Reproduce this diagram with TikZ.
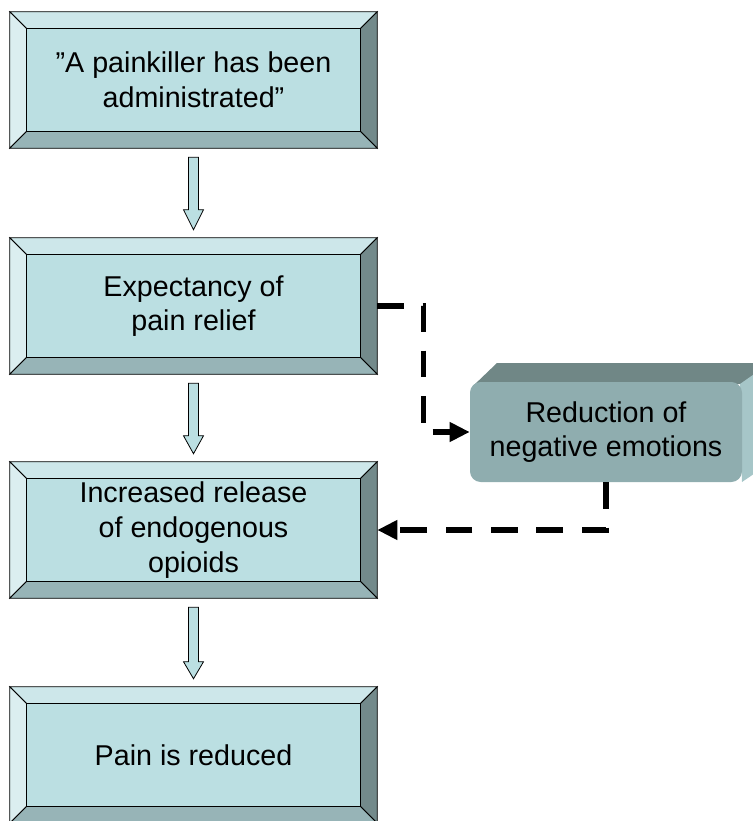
\documentclass[tikz,border=0pt]{standalone}
\usepackage{fontspec}
\setmainfont{Liberation Sans}
\usetikzlibrary{calc,backgrounds,arrows.meta}
\definecolor{face}{HTML}{BBDFE2}
\definecolor{bevtop}{HTML}{CDE7EA}
\definecolor{bevleft}{HTML}{DBEEF0}
\definecolor{bevright}{HTML}{738A8B}
\definecolor{bevbot}{HTML}{97B4B7}
\definecolor{cfront}{HTML}{8FADAF}
\definecolor{ctop}{HTML}{708786}
\definecolor{cside}{HTML}{A6C6C8}
\tikzset{
  boxtext/.style={rectangle,inner sep=0pt,minimum width=275.25pt,minimum height=102pt,
    align=center,font=\fontsize{21.5}{26}\selectfont},
  bevel/.style={draw=black,line width=0.6pt,line join=miter},
  blockarrow/.style={draw=black,line width=0.6pt,fill=face},
  dashconn/.style={draw=black,line width=3.8pt,dash pattern=on 20pt off 14pt,
    -{Triangle[length=15pt,width=14pt]}},
  emobox/.style={rectangle,rounded corners=8pt,fill=cfront,inner sep=0pt,
    minimum width=204pt,minimum height=75pt,align=center,font=\fontsize{21.5}{25.5}\selectfont}
}
\newcommand\bevbox[3]{%
  \node[boxtext] (#1) at (#2) {#3};
  \begin{scope}[on background layer]
    \path[bevel,fill=bevtop] (#1.north west) -- (#1.north east) -- ($(#1.north east)+(-17,17)$) -- ($(#1.north west)+(17,17)$) -- cycle;
    \path[bevel,fill=bevleft] (#1.north west) -- ($(#1.north west)+(17,17)$) -- ($(#1.south west)+(17,-17)$) -- (#1.south west) -- cycle;
    \path[bevel,fill=bevright] (#1.north east) -- ($(#1.north east)+(-17,17)$) -- ($(#1.south east)+(-17,-17)$) -- (#1.south east) -- cycle;
    \path[bevel,fill=bevbot] (#1.south west) -- ($(#1.south west)+(17,-17)$) -- ($(#1.south east)+(-17,-17)$) -- (#1.south east) -- cycle;
    \path[bevel,fill=face] ($(#1.north west)+(17,17)$) rectangle ($(#1.south east)+(-17,-17)$);
  \end{scope}}
\newcommand\blockarr[4]{% from, to, top gap, head offset
  \path[blockarrow] ($(#1.south)+(-5,#3)$) -- ($(#1.south)+(5,#3)$) -- ($(#2.north)+(5,-#4)$) -- ($(#2.north)+(10,-#4)$) -- ($(#2.north)+(0,-8)$) -- ($(#2.north)+(-10,-#4)$) -- ($(#2.north)+(-5,-#4)$) -- cycle;}
\begin{document}
\begin{tikzpicture}[x=0.75pt,y=-0.75pt]
\useasboundingbox (0,0) rectangle (753,821);
\clip (0,0) rectangle (753,821);
\bevbox{b1}{193.5,80}{”A painkiller has been\\administrated”}
\bevbox{b2}{193.5,306}{Expectancy of\\pain relief}
\bevbox{b3}{193.5,530}{Increased release\\of endogenous\\opioids}
\bevbox{b4}{193.5,755}{Pain is reduced}
\blockarr{b1}{b2}{9}{28}
\blockarr{b2}{b3}{9}{26}
\blockarr{b3}{b4}{9}{25}
% 3D box
\path[fill=ctop] (473,386) -- (497,363) -- (770,363) -- (742,384) -- cycle;
\path[fill=cside] (740,384) -- (770,363) -- (770,463) -- (742,482) -- cycle;
\node[emobox] (emo) at (606,432) {Reduction of\\negative emotions};
\draw[dashconn] (b2.east) -- ++(46,0) |- (emo.west);
\draw[dashconn] (emo.south) |- (b3.east);
\end{tikzpicture}
\end{document}
